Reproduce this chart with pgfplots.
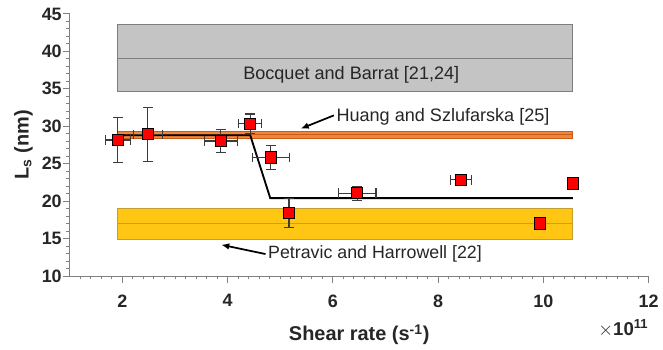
\documentclass[border=0pt]{standalone}
\usepackage{pgfplots}
\pgfplotsset{compat=1.18}
\usepackage{pgfplotstable}
\usepackage{fontspec}
\setmainfont{Liberation Sans}
\usetikzlibrary{arrows.meta}

\definecolor{bandgray}{RGB}{196,196,196}
\definecolor{bandgrayedge}{RGB}{125,125,125}
\definecolor{bandorange}{RGB}{242,134,56}
\definecolor{bandorangeedge}{RGB}{200,92,28}
\definecolor{bandyellow}{RGB}{255,198,20}
\definecolor{bandyellowedge}{RGB}{196,158,50}
\definecolor{txt}{RGB}{38,38,38}
\definecolor{axgray}{RGB}{128,128,128}
\definecolor{errgray}{RGB}{60,60,60}

% slip length vs shear rate (x in units of 1e11 s^-1)
\pgfplotstableread{
x      y      ex     ey
1.915  28.16  0.24   3.0
2.483  28.92  0.275  3.6
3.873  28.03  0.315  1.5
4.428  30.34  0.215  1.3
4.820  25.82  0.35   1.6
5.167  18.39  0.0    1.9
6.460  21.06  0.36   0.95
8.437  22.83  0.195  0.3
9.934  17.02  0.0    0.35
10.564 22.35  0.0    0.0
}\slipdata

\begin{document}
\begin{tikzpicture}
\begin{axis}[
  scale only axis,
  width=435.75pt, height=197.25pt,
  xmin=1, xmax=12, ymin=10, ymax=45,
  axis lines=left,
  axis line style={axgray, line width=0.7pt, -},
  xtick={2,4,...,12}, ytick={10,15,...,45},
  minor xtick={1.2,1.4,...,11.9},
  minor ytick={11,12,...,44},
  tick align=outside,
  major tick length=5pt, minor tick length=2.5pt,
  every tick/.style={axgray, line width=0.7pt},
  /pgf/number format/assume math mode=true,
  ticklabel style={font=\fontsize{13.5}{15}\selectfont\bfseries, text=txt},
  xticklabel style={yshift=-5.5pt},
  yticklabel style={xshift=2.5pt},
  xlabel={Shear rate (s\textsuperscript{-1})},
  ylabel={L\textsubscript{s} (nm)},
  label style={font=\fontsize{15}{17}\selectfont\bfseries, text=txt},
  xlabel style={yshift=-6pt},
  clip=false,
]
  % Bocquet and Barrat band
  \addplot[fill=bandgray, draw=bandgrayedge, line width=0.7pt]
    coordinates {(1.915,34.6) (10.56,34.6) (10.56,43.6) (1.915,43.6)} -- cycle;
  \addplot[bandgrayedge, line width=0.7pt] coordinates {(1.915,39.1) (10.56,39.1)};
  % Petravic and Harrowell band
  \addplot[fill=bandyellow, draw=bandyellowedge, line width=0.7pt]
    coordinates {(1.915,14.9) (10.56,14.9) (10.56,19.0) (1.915,19.0)} -- cycle;
  \addplot[bandyellowedge, line width=0.7pt] coordinates {(1.915,16.95) (10.56,16.95)};
  % Huang and Szlufarska band
  \addplot[fill=bandorange, draw=bandorangeedge, line width=0.6pt]
    coordinates {(1.915,28.4) (10.56,28.4) (10.56,29.3) (1.915,29.3)} -- cycle;
  \addplot[bandorangeedge, line width=0.6pt] coordinates {(1.915,28.85) (10.56,28.85)};
  % fitted step
  \addplot[black, line width=1.4pt]
    coordinates {(1.915,28.8) (4.43,28.8) (4.81,20.4) (10.56,20.4)};
  % simulation data
  \addplot[only marks, mark=square*, mark size=4.2pt,
    mark options={fill=red, draw=black, line width=0.75pt},
    error bars/.cd, x dir=both, y dir=both, x explicit, y explicit,
    error bar style={errgray, line width=0.8pt},
    error mark options={errgray, line width=0.8pt, mark size=3.6pt, rotate=90}]
    table[x=x, y=y, x error=ex, y error=ey] {\slipdata};

  \node[font=\fontsize{13.6}{16}\selectfont, text=txt] at (axis cs:6.35,36.9) {Bocquet and Barrat [21,24]};
  \node[font=\fontsize{13.6}{16}\selectfont, text=txt, anchor=west, inner sep=1pt] at (axis cs:6.04,31.3) {Huang and Szlufarska [25]};
  \node[font=\fontsize{13.4}{16}\selectfont, text=txt, anchor=west, inner sep=1pt] at (axis cs:4.74,12.93) {Petravic and Harrowell [22]};
  \draw[-{Latex[length=6pt,width=5pt]}, black, line width=1.3pt] (axis cs:6.02,31.45) -- (axis cs:5.39,29.68);
  \draw[-{Latex[length=6pt,width=5pt]}, black, line width=1.3pt] (axis cs:4.72,12.93) -- (axis cs:3.88,14.17);

  \node[anchor=base east, inner sep=0pt, text=txt, font=\fontsize{14}{16}\selectfont]
    at ([yshift=-45pt]rel axis cs:1,0) {$\times$\textbf{10\textsuperscript{11}}};
  \coordinate (o) at (rel axis cs:0,0);
\end{axis}
\path (o) ++(-52.5pt,-53.25pt) rectangle ++(497.25pt,261pt);
\end{tikzpicture}
\end{document}
